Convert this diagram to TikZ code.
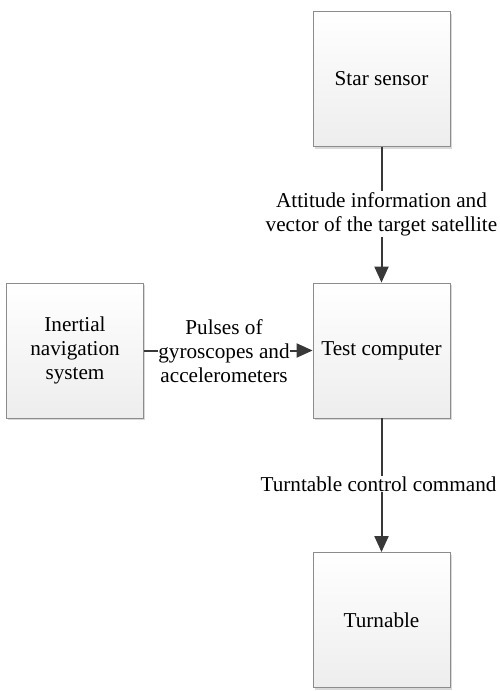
\documentclass[tikz,border=0pt]{standalone}
\usepackage{fontspec}
\setmainfont{Liberation Serif}
\usetikzlibrary{arrows.meta,shadows}
\begin{document}
\begin{tikzpicture}[x=1pt,y=-1pt,
  blockbox/.style={draw=black!45, line width=0.8pt, top color=white, bottom color=black!7,
    minimum width=137pt, minimum height=135pt, inner sep=0pt, align=center,
    font=\fontsize{21.2}{24}\selectfont,
    drop shadow={shadow xshift=1.5pt, shadow yshift=-2pt, opacity=0.25, fill=black!60}},
  conn/.style={draw=black!78, line width=2pt, -{Triangle[width=14pt,length=16pt]}},
  lbl/.style={fill=white, inner sep=1pt, align=center, font=\fontsize{21.2}{24}\selectfont}]
\useasboundingbox (0,0) rectangle (499,691);
\node[blockbox] (star) at (381.5,79) {Star sensor};
\node[blockbox] (test) at (381.5,350.5) {Test computer};
\node[blockbox] (turn) at (381.5,620) {Turnable};
\node[blockbox] (ins) at (75,350.5) {Inertial\\navigation\\system};
\draw[conn] (star) -- (test);
\draw[conn] (ins) -- (test);
\draw[conn] (test) -- (turn);
\node[lbl] (l1) at (381.5,214) {Attitude information and\\vector of the target satellite};
\node[lbl,inner sep=0pt] (l2) at (224,351) {Pulses of\\gyroscopes and\\accelerometers};
\node[lbl] (l3) at (378.5,484) {Turntable control command};
\end{tikzpicture}
\end{document}
